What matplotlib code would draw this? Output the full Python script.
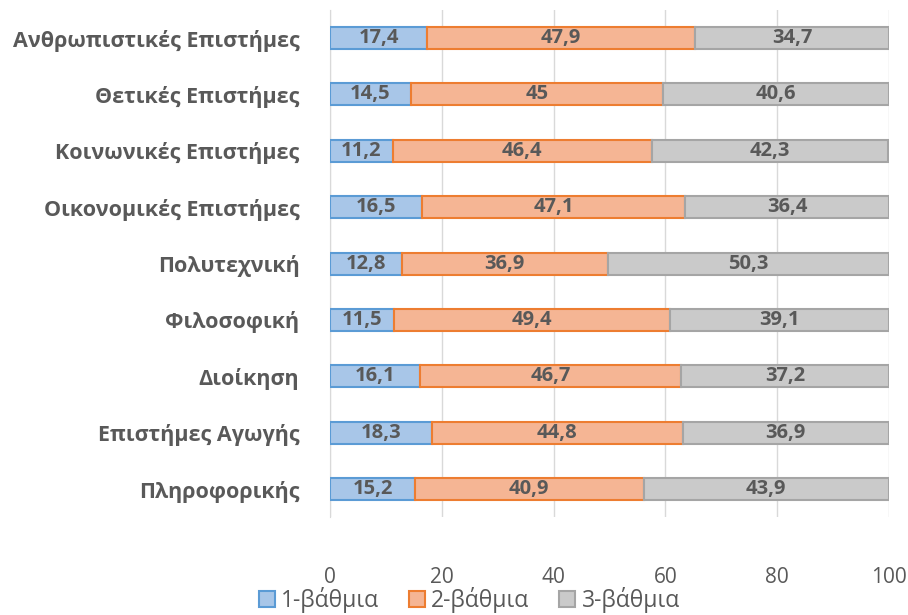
import matplotlib.pyplot as plt
import numpy as np
from matplotlib.patches import Patch

# Categories listed bottom to top
schools = ['Πληροφορικής', 'Επιστήμες Αγωγής', 'Διοίκηση', 'Φιλοσοφική', 'Πολυτεχνική',
           'Οικονομικές Επιστήμες', 'Κοινωνικές Επιστήμες', 'Θετικές Επιστήμες',
           'Ανθρωπιστικές Επιστήμες']
level1 = [15.2, 18.3, 16.1, 11.5, 12.8, 16.5, 11.2, 14.5, 17.4]
level2 = [40.9, 44.8, 46.7, 49.4, 36.9, 47.1, 46.4, 45, 47.9]
level3 = [43.9, 36.9, 37.2, 39.1, 50.3, 36.4, 42.3, 40.6, 34.7]
series_names = ['1-βάθμια', '2-βάθμια', '3-βάθμια']

faces = ['#A8C6E8', '#F5B594', '#CACACA']
edges = ['#5B9BD5', '#ED7D31', '#A5A5A5']
text_col = '#595959'

plt.rcParams['font.family'] = ['Open Sans', 'DejaVu Sans']

fig = plt.figure(figsize=(9.08, 6.15), dpi=100)
ax = fig.add_axes([0.3634, 0.159, 0.6156, 0.825])

y = np.arange(len(schools))
left = np.zeros(len(schools))
for vals, fc, ec in zip([level1, level2, level3], faces, edges):
    vals = np.array(vals)
    bars = ax.barh(y, vals, left=left, height=0.39, color=fc, edgecolor=ec,
                   linewidth=1.5, zorder=3)
    for b, v in zip(bars, vals):
        txt = f'{v:g}'.replace('.', ',')
        ax.text(b.get_x() + b.get_width() / 2, b.get_y() + b.get_height() / 2, txt,
                ha='center', va='center', fontsize=14.5, fontweight='bold',
                color=text_col, zorder=4)
    left += vals

ax.set_xlim(0, 100)
ax.set_ylim(-0.5, len(schools) - 0.5)
ax.set_xticks([0, 20, 40, 60, 80, 100])
ax.set_yticks(y)
ax.set_yticklabels(schools, fontsize=15.5, fontweight='bold', color=text_col)
ax.tick_params(axis='x', length=0, pad=36, labelsize=15, labelcolor=text_col)
ax.tick_params(axis='y', length=0, pad=22)
ax.grid(axis='x', color='#D9D9D9', linewidth=1, zorder=0)
for s in ['top', 'right', 'bottom']:
    ax.spines[s].set_visible(False)
ax.spines['left'].set_color('#D9D9D9')

handles = [Patch(facecolor=fc, edgecolor=ec, linewidth=1.5) for fc, ec in zip(faces, edges)]
fig.legend(handles, series_names, loc='center', bbox_to_anchor=(0.517, 0.024), ncol=3,
           frameon=False, fontsize=16.5, handlelength=0.7, handleheight=0.7,
           handletextpad=0.27, columnspacing=1.3, labelcolor=text_col,
           borderpad=0)

fig.savefig('out.png', dpi=100)
